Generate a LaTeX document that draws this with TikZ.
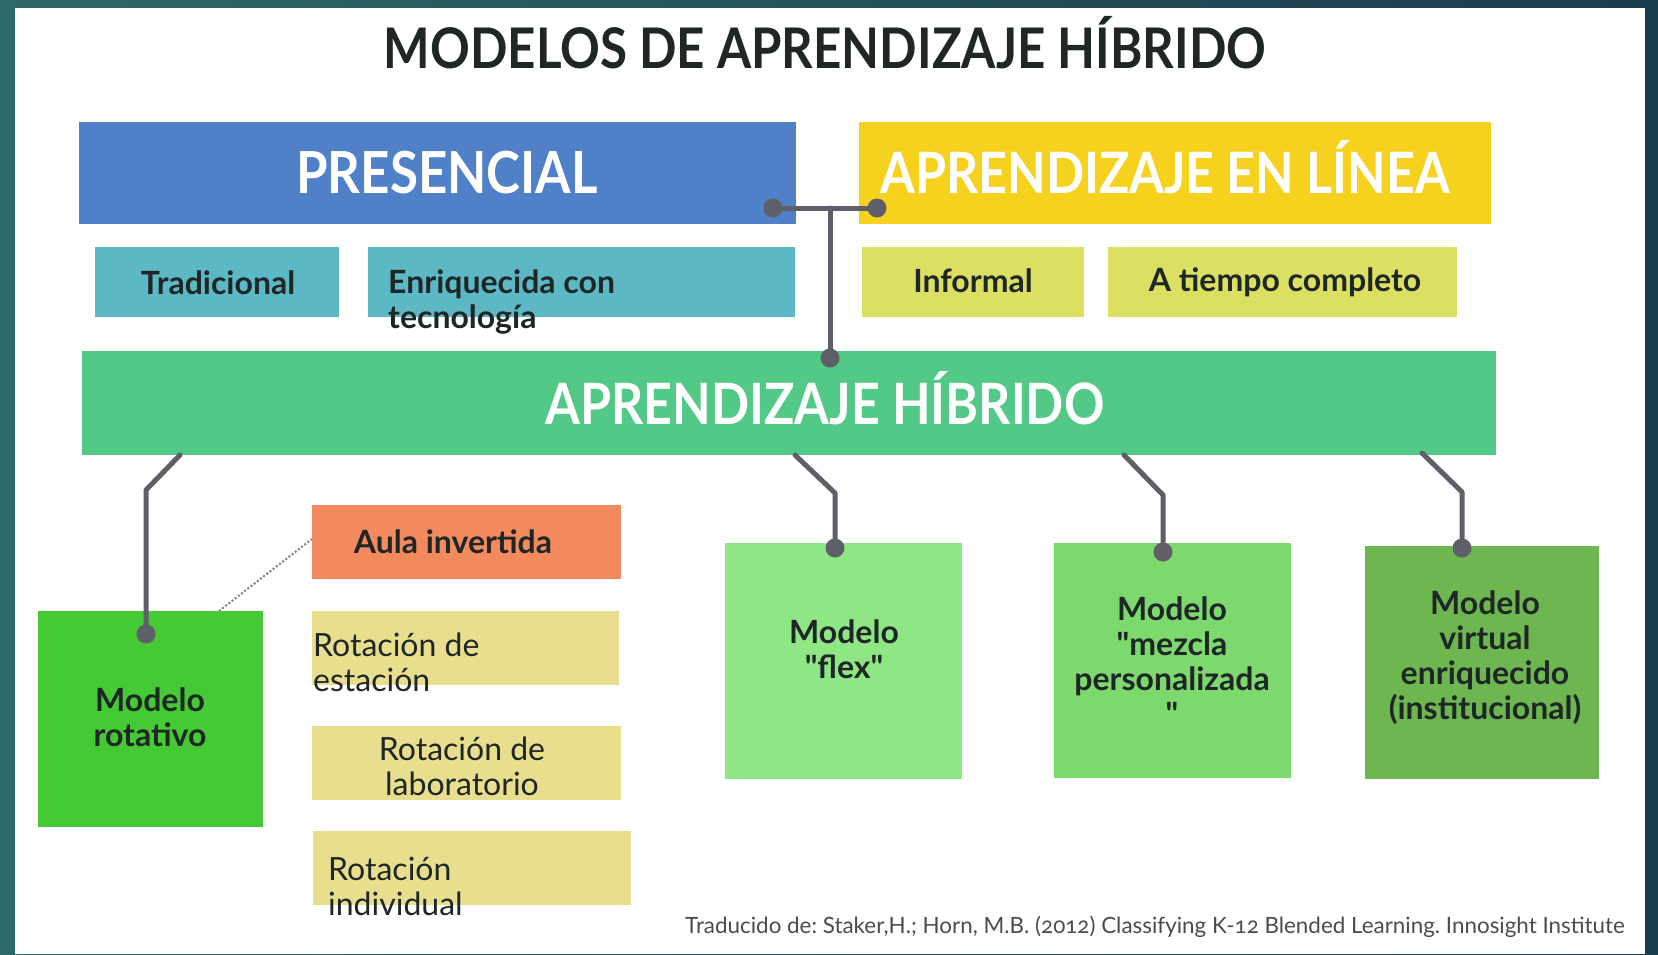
\documentclass[tikz,border=0pt]{standalone}
\usepackage{fontspec}
\setmainfont{Lato}
\newfontfamily\capsfont[FakeStretch=0.88]{Lato}
\newfontfamily\plainfont{Lato}
\newfontfamily\footfont[Numbers=OldStyle]{Lato}
\usetikzlibrary{calc}
\definecolor{bgA}{HTML}{2D6967}
\definecolor{bgB}{HTML}{1B3B4E}
\definecolor{cPres}{HTML}{4F80C8}
\definecolor{cLin}{HTML}{F6D21E}
\definecolor{cTrad}{HTML}{5DB8C5}
\definecolor{cInf}{HTML}{DCE062}
\definecolor{cHib}{HTML}{52C986}
\definecolor{cRot}{HTML}{45C934}
\definecolor{cAula}{HTML}{F28A5E}
\definecolor{cRotx}{HTML}{E9DE8E}
\definecolor{cFlex}{HTML}{8EE685}
\definecolor{cMez}{HTML}{7DD86E}
\definecolor{cVir}{HTML}{6DB650}
\definecolor{cLine}{HTML}{5E5F69}
\definecolor{cTxt}{HTML}{1E2626}
\begin{document}
\begin{tikzpicture}[x=1pt,y=-1pt,
  box/.style={draw=none,inner sep=0pt,anchor=north west},
  bigtxt/.style={text=white,font=\capsfont\bfseries\fontsize{58}{64}\selectfont,inner sep=0pt,anchor=base},
  lbl/.style={text=cTxt,font=\plainfont\bfseries\fontsize{32}{35}\selectfont,inner sep=0pt,align=center},
  rlbl/.style={text=cTxt,font=\plainfont\fontsize{32}{35}\selectfont,inner sep=0pt},
  conn/.style={draw=cLine,line width=5pt,line join=round,line cap=round},
  dot/.style={circle,fill=cLine,inner sep=0pt,minimum size=19pt}]
\useasboundingbox (0,0) rectangle (1658,954);
\shade[left color=bgA,right color=bgB] (0,0) rectangle (1658,954);
\fill[white] (15,8) rectangle (1645,954);

\node[text=cTxt,font=\capsfont\bfseries\fontsize{56}{60}\selectfont,inner sep=0pt,anchor=base] (title) at (825,68) {MODELOS DE APRENDIZAJE HÍBRIDO};

% top boxes
\node[box,fill=cPres,minimum width=717pt,minimum height=102pt] (pres) at (79,122) {};
\node[box,fill=cLin,minimum width=632pt,minimum height=102pt] (lin) at (859,122) {};
\node[bigtxt] (presT) at (447,193) {PRESENCIAL};
\node[bigtxt,font=\capsfont\bfseries\fontsize{57}{64}\selectfont] (linT) at (1165,193) {APRENDIZAJE EN LÍNEA};

\node[box,fill=cTrad,minimum width=244pt,minimum height=70pt] (trad) at (95,247) {};
\node[box,fill=cTrad,minimum width=427pt,minimum height=70pt] (enr) at (368,247) {};
\node[box,fill=cInf,minimum width=222pt,minimum height=70pt] (inf) at (862,247) {};
\node[box,fill=cInf,minimum width=349pt,minimum height=70pt] (atc) at (1108,247) {};
\node[lbl] (tradT) at (218,283) {Tradicional};
\node[lbl,align=left,anchor=west] (enrT) at (388,302) {Enriquecida con\\tecnología};
\node[lbl] (infT) at (973,281) {Informal};
\node[lbl] (atcT) at (1285,282) {A tiempo completo};

\node[box,fill=cHib,minimum width=1414pt,minimum height=104pt] (hib) at (82,351) {};
\node[bigtxt,font=\capsfont\bfseries\fontsize{57}{64}\selectfont] (hibT) at (825,424) {APRENDIZAJE HÍBRIDO};

% lower boxes
\node[box,fill=cRot,minimum width=225pt,minimum height=216pt] (rot) at (38,611) {};
\node[lbl] (rotT) at (150,717) {Modelo\\rotativo};
\node[box,fill=cAula,minimum width=309pt,minimum height=74pt] (aula) at (312,505) {};
\node[lbl] (aulaT) at (453,542) {Aula invertida};
\node[box,fill=cRotx,minimum width=307pt,minimum height=74pt] (est) at (312,611) {};
\node[rlbl,align=left,anchor=west] (estT) at (313,662) {Rotación de\\estación};
\node[box,fill=cRotx,minimum width=309pt,minimum height=74pt] (lab) at (312,726) {};
\node[rlbl,align=center] (labT) at (462,766) {Rotación de\\laboratorio};
\node[box,fill=cRotx,minimum width=318pt,minimum height=74pt] (ind) at (313,831) {};
\node[rlbl,align=left,anchor=west] (indT) at (328,886) {Rotación\\individual};

\node[box,fill=cFlex,minimum width=237pt,minimum height=236pt] (flex) at (725,543) {};
\node[lbl] (flexT) at (844,649) {Modelo\\"flex"};
\node[box,fill=cMez,minimum width=237pt,minimum height=235pt] (mez) at (1054,543) {};
\node[lbl] (mezT) at (1172,661) {Modelo\\"mezcla\\personalizada\\"};
\node[box,fill=cVir,minimum width=234pt,minimum height=233pt] (vir) at (1365,546) {};
\node[lbl] (virT) at (1485,658) {Modelo\\virtual\\enriquecido\\(institucional)};

% connectors
\node[dot] (dP) at (773,208) {};
\node[dot] (dL) at (877,208) {};
\node[dot] (dH) at (830,358) {};
\coordinate (jT) at (830,208);
\draw[conn] (dP) -- (dL);
\draw[conn] (jT) -- (dH);

\node[dot] (d1) at (146,634) {};
\node[dot] (d2) at (835,548) {};
\node[dot] (d3) at (1163,552) {};
\node[dot] (d4) at (1462,548) {};
\coordinate (h1) at (180,455);
\coordinate (h2) at (795,455);
\coordinate (h3) at (1124,455);
\coordinate (h4) at (1422,453);
\draw[conn] (h1) -- (146,490) -- (d1);
\draw[conn] (h2) -- (835,493) -- (d2);
\draw[conn] (h3) -- (1163,495) -- (d3);
\draw[conn] (h4) -- (1462,492) -- (d4);

\coordinate (rotC) at (219,611);
\coordinate (aulaC) at (312,539);
\draw[cLine!80,line width=2pt,dotted] (rotC) -- (aulaC);

\node[text=black!70,font=\footfont\fontsize{22.4}{26}\selectfont,inner sep=0pt,anchor=west] (foot) at (685,927) {\frenchspacing Traducido de: Staker,H.; Horn, M.B. (2012) Classifying K-12 Blended Learning. Innosight Institute};
\end{tikzpicture}
\end{document}
